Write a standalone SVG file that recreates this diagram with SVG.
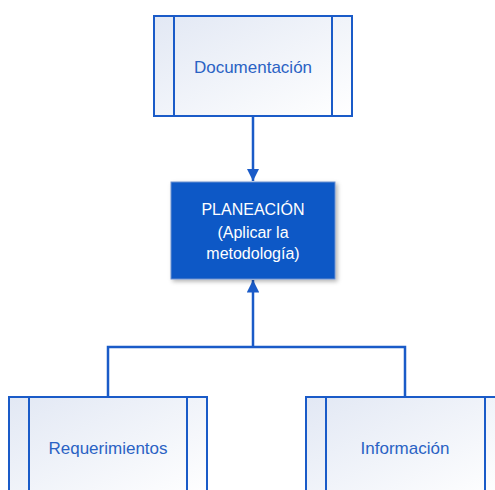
<svg xmlns="http://www.w3.org/2000/svg" width="495" height="490" viewBox="0 0 495 490">
<defs>
<linearGradient id="g" x1="0" y1="0" x2="1" y2="1">
<stop offset="0" stop-color="#e2e8f4"/>
<stop offset="1" stop-color="#ffffff"/>
</linearGradient>
<filter id="sh" x="-10%" y="-10%" width="130%" height="130%">
<feDropShadow dx="2" dy="2" stdDeviation="2" flood-color="#000" flood-opacity="0.3"/>
</filter>
<marker id="ah" viewBox="0 0 10 10" refX="10" refY="5" markerWidth="5" markerHeight="5" orient="auto" markerUnits="strokeWidth">
<path d="M0,0 L10,5 L0,10 z" fill="#1a5bc8"/>
</marker>
<style>
.proc{fill:url(#g);stroke:#1a5bc8;stroke-width:2}
.bar{stroke:#1a5bc8;stroke-width:2}
.lbl{font-family:"Liberation Sans",Arial,sans-serif;font-size:17px;fill:#2a62c4;text-anchor:middle}
.wl{font-family:"Liberation Sans",Arial,sans-serif;font-size:16px;fill:#ffffff;text-anchor:middle}
.con{stroke:#1a5bc8;stroke-width:2.5;fill:none}
</style>
</defs>
<g id="connectors">
<line class="con" x1="253" y1="116" x2="253" y2="181" marker-end="url(#ah)"/>
<polyline class="con" points="108,397 108,347 405,347 405,397"/>
<line class="con" x1="253" y1="347" x2="253" y2="280" marker-end="url(#ah)"/>
</g>
<g id="documentacion">
<rect class="proc" x="154" y="16" width="198" height="100"/>
<line class="bar" x1="174" y1="16" x2="174" y2="116"/>
<line class="bar" x1="332" y1="16" x2="332" y2="116"/>
<text class="lbl" x="253" y="73">Documentación</text>
</g>
<g id="planeacion">
<rect x="171" y="182" width="164" height="97" fill="#0a59c6" stroke="#6d8fcf" stroke-width="1" filter="url(#sh)"/>
<text class="wl" x="253" y="215">PLANEACIÓN</text>
<text class="wl" x="253" y="238">(Aplicar la</text>
<text class="wl" x="253" y="259">metodología)</text>
</g>
<g id="requerimientos">
<rect class="proc" x="9" y="397" width="198" height="100"/>
<line class="bar" x1="29" y1="397" x2="29" y2="497"/>
<line class="bar" x1="187" y1="397" x2="187" y2="497"/>
<text class="lbl" x="108" y="454">Requerimientos</text>
</g>
<g id="informacion">
<rect class="proc" x="306" y="397" width="198" height="100"/>
<line class="bar" x1="326" y1="397" x2="326" y2="497"/>
<line class="bar" x1="485" y1="397" x2="485" y2="497"/>
<text class="lbl" x="405" y="454">Información</text>
</g>
</svg>
